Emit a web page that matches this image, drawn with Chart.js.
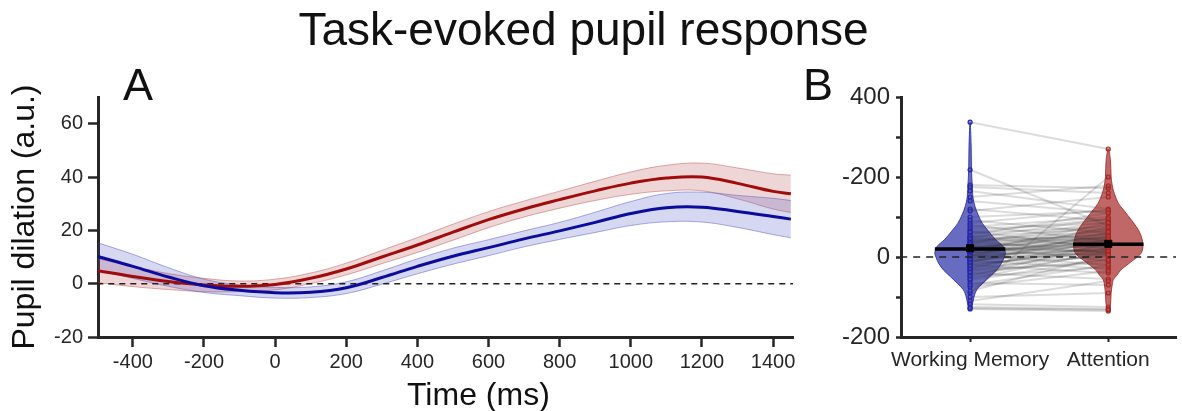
<!DOCTYPE html>
<html>
<head>
<meta charset="utf-8">
<script src="https://cdn.jsdelivr.net/npm/chart.js@4.4.1/dist/chart.umd.min.js"></script>
<style>
  html, body { margin: 0; padding: 0; background: #fff; }
  body { width: 1182px; height: 411px; position: relative; overflow: hidden; font-family: "Liberation Sans", Arial, sans-serif; }
  canvas { position: absolute; top: 0; }
  .txt { position: absolute; color: #111; line-height: 1; white-space: nowrap; z-index: 2; }
  #title { left: 0; width: 1167px; top: 6px; font-size: 46px; text-align: center; }
  .panel { top: 62px; font-size: 45px; }
  #xtitle { left: 407px; top: 378px; font-size: 32px; }
</style>
</head>
<body>
<div class="txt" id="title">Task-evoked pupil response</div>
<div class="txt panel" style="left:123px">A</div>
<div class="txt panel" style="left:803px">B</div>
<div class="txt" id="xtitle">Time (ms)</div>
<canvas id="chartA" width="800" height="411" style="left:0"></canvas>
<canvas id="chartB" width="382" height="411" style="left:800px"></canvas>
<script>
// ---- Panel A: time course (ms) ----
const times = [-500, -400, -300, -200, -100, 0, 100, 200, 300, 400, 500, 600, 700, 800, 900, 1000, 1100, 1200, 1300, 1400, 1450];
const attMean = [4.9, 2.7, 0.8, -0.5, -1.0, -0.3, 2.0, 5.5, 10.0, 14.5, 19.3, 24.0, 28.0, 31.5, 34.8, 37.7, 39.6, 40.0, 37.6, 34.6, 33.7];
const attErr  = [4.5, 3.8, 3.0, 2.5, 2.0, 2.0, 2.0, 2.2, 2.5, 2.8, 3.0, 3.0, 3.0, 3.2, 3.6, 4.2, 4.8, 5.2, 5.8, 6.6, 7.0];
const wmMean  = [10.2, 6.5, 2.5, -0.8, -2.5, -3.4, -3.2, -1.5, 2.3, 6.5, 10.3, 13.5, 16.8, 19.8, 23.0, 26.3, 28.5, 28.7, 27.1, 25.2, 24.2];
const wmErr   = [5.2, 4.5, 3.5, 2.5, 2.0, 2.0, 2.0, 2.2, 2.5, 2.8, 3.0, 3.0, 3.0, 3.2, 3.8, 4.5, 5.3, 5.6, 6.0, 6.8, 7.0];
const aXTicks = [-400, -200, 0, 200, 400, 600, 800, 1000, 1200, 1400];
const aYTicks = [-20, -10, 0, 10, 20, 30, 40, 50, 60, 70];
const aYLabels = ['-20', '', '0', '', '20', '', '40', '', '60', ''];

// ---- Panel B: per-subject values (paired by index) ----
const categories = ['Working Memory', 'Attention'];
const wmValues  = [337, 218, 180, 175, 165, 150, 140, 120, 115, 100, 92, 85, 80, 75, 70, 65, 60, 55, 50, 48, 45, 42, 40, 38, 35, 32, 30, 28, 25, 22, 20, 18, 15, 12, 10, 8, 5, 3, 0, -2, -5, -8, -10, -12, -15, -18, -20, -25, -28, -32, -35, -40, -45, -50, -58, -65, -75, -90, -100, -110, -118, -125, -130, -128,
                   62, 52, 46, 36, 33, 27, 24, 19, 16, 13, 11, 7, 4, 2, -3, -7, -14, -22, -30, -38, -48, -55, -70, -85];
const attValues = [270, 78, 172, 160, 120, 178, 110, 90, 150, 115, 60, 118, 40, 100, 85, 20, 75, 110, 45, 95, 30, 65, 10, 55, 80, 25, 50, -10, 40, 70, 15, 35, 60, 5, 45, 30, -20, 20, 55, 10, 35, -30, 25, 50, 0, 15, -40, 30, 5, -15, 20, -55, 10, -25, -5, -70, -35, 200, -90, -60, -125, -130, -135, -132,
                   95, 70, 40, 88, 58, 12, 48, 66, 28, 85, 38, 52, 18, 75, 42, 8, 62, 22, 45, -8, 35, 15, -20, 5];
const wmViolinLevels  = [-130, -120, -100, -82, -66, -49, -33, -16, 0, 10, 26, 44, 67, 84, 105, 126, 150, 180, 220, 280, 337];
const wmViolinDensity = [0, 0.06, 0.11, 0.19, 0.36, 0.56, 0.75, 0.89, 0.97, 1, 0.94, 0.72, 0.5, 0.35, 0.23, 0.14, 0.08, 0.06, 0.04, 0.03, 0];
const attViolinLevels  = [-135, -120, -91, -70, -57, -45, -32, -20, -7, 5, 17, 34, 50, 67, 85, 101, 118, 134, 159, 180, 201, 243, 270];
const attViolinDensity = [0, 0.06, 0.08, 0.11, 0.14, 0.25, 0.36, 0.53, 0.72, 0.89, 0.97, 0.98, 0.94, 0.86, 0.72, 0.58, 0.43, 0.29, 0.17, 0.11, 0.08, 0.06, 0];
const groupMedian = [20, 32];
const groupMean = [22, 33];
const bYTicks = [-200, -100, 0, 100, 200, 300, 400];
const bYLabels = ['-200', '', '0', '', '-200', '', '400'];

const FONT = 'Liberation Sans';
const AXIS = '#262626';
const BLUE = '#0c0c9c', RED = '#a00c0c';

function xy(xs, ys, off) { return xs.map((x, i) => ({x: x, y: ys[i] + (off ? off[i] : 0)})); }
function neg(a) { return a.map(v => -v); }

function axisStyle(extra) {
  return Object.assign({
    border: {display: true, width: 3, color: AXIS},
    grid: {display: true, drawOnChartArea: false, drawTicks: true, tickLength: 10, tickWidth: 2.5, tickColor: AXIS}
  }, extra);
}

new Chart(document.getElementById('chartA'), {
  type: 'line',
  data: {
    datasets: [
      {data: xy(times, wmMean), borderColor: BLUE, borderWidth: 3, pointRadius: 0, tension: 0.4, fill: false, order: 0},
      {data: xy(times, attMean), borderColor: RED, borderWidth: 3, pointRadius: 0, tension: 0.4, fill: false, order: 1},
      {data: [{x: -500, y: 0}, {x: 1460, y: 0}], borderColor: '#222', borderWidth: 1.5, borderDash: [6, 5], pointRadius: 0, fill: false, order: 2},
      // blue band (upper fills to lower)
      {data: xy(times, wmMean, wmErr), borderColor: 'rgba(70,75,190,0.45)', borderWidth: 1, backgroundColor: 'rgba(70,75,190,0.22)', pointRadius: 0, tension: 0.4, fill: '+1', order: 3},
      {data: xy(times, wmMean, neg(wmErr)), borderColor: 'rgba(70,75,190,0.45)', borderWidth: 1, pointRadius: 0, tension: 0.4, fill: false, order: 4},
      // red band
      {data: xy(times, attMean, attErr), borderColor: 'rgba(175,50,50,0.4)', borderWidth: 1, backgroundColor: 'rgba(175,50,50,0.2)', pointRadius: 0, tension: 0.4, fill: '+1', order: 5},
      {data: xy(times, attMean, neg(attErr)), borderColor: 'rgba(175,50,50,0.4)', borderWidth: 1, pointRadius: 0, tension: 0.4, fill: false, order: 6}
    ]
  },
  options: {
    responsive: false,
    animation: false,
    layout: {padding: {top: 97, right: 7, left: 0, bottom: 0}},
    plugins: {legend: {display: false}, tooltip: {enabled: false}},
    scales: {
      x: axisStyle({
        type: 'linear', min: -498, max: 1456,
        afterBuildTicks: s => { s.ticks = aXTicks.map(v => ({value: v})); },
        afterFit: s => { s.height = 74; },
        ticks: {color: AXIS, font: {family: FONT, size: 20}, padding: 3, maxRotation: 0, callback: v => String(v)}
      }),
      y: axisStyle({
        type: 'linear', min: -20, max: 70,
        afterBuildTicks: s => { s.ticks = aYTicks.map(v => ({value: v})); },
        afterFit: s => { s.width = 98; },
        ticks: {color: AXIS, font: {family: FONT, size: 20}, padding: 5, callback: v => aYLabels[aYTicks.indexOf(v)]},
        title: {display: true, text: 'Pupil dilation (a.u.)', color: '#111', font: {family: FONT, size: 32}, padding: {top: 6, bottom: 0}}
      })
    }
  }
});

// ---- Panel B ----
const VIOLIN_HALF = 0.255;
function violin(levels, dens, center) {
  const right = levels.map((y, i) => ({x: center + dens[i] * VIOLIN_HALF, y: y}));
  const left = levels.map((y, i) => ({x: center - dens[i] * VIOLIN_HALF, y: y})).reverse();
  return right.concat(left.slice(1));
}

const pairLines = wmValues.map((v, i) => ({
  data: [{x: 1, y: v}, {x: 2, y: attValues[i]}],
  borderColor: 'rgba(50,50,50,0.17)', borderWidth: 2, pointRadius: 0, fill: false, order: 4
}));

new Chart(document.getElementById('chartB'), {
  type: 'line',
  data: {
    datasets: [
      {data: [{x: 1, y: groupMean[0]}, {x: 2, y: groupMean[1]}], showLine: false, pointStyle: 'rect', pointRadius: 5, backgroundColor: '#000', borderColor: '#000', order: 0},
      {data: [{x: 1 - VIOLIN_HALF, y: groupMedian[0]}, {x: 1 + VIOLIN_HALF, y: groupMedian[0]}], borderColor: '#000', borderWidth: 3.5, pointRadius: 0, order: 1},
      {data: [{x: 2 - VIOLIN_HALF, y: groupMedian[1]}, {x: 2 + VIOLIN_HALF, y: groupMedian[1]}], borderColor: '#000', borderWidth: 3.5, pointRadius: 0, order: 1},
      {data: [{x: 0.4, y: 0}, {x: 2.6, y: 0}], borderColor: '#222', borderWidth: 1.5, borderDash: [7, 6], pointRadius: 0, order: 2},
      {data: wmValues.map(v => ({x: 1, y: v})), showLine: false, pointRadius: 2, borderWidth: 1.2, borderColor: '#2626a6', backgroundColor: 'rgba(80,85,190,0.6)', order: 3},
      {data: attValues.map(v => ({x: 2, y: v})), showLine: false, pointRadius: 2, borderWidth: 1.2, borderColor: '#a62626', backgroundColor: 'rgba(190,80,80,0.6)', order: 3},
      ...pairLines,
      {data: violin(wmViolinLevels, wmViolinDensity, 1), borderColor: 'rgba(40,45,165,0.85)', borderWidth: 1, backgroundColor: 'rgba(40,45,165,0.7)', pointRadius: 0, tension: 0.35, fill: 'shape', order: 5},
      {data: violin(attViolinLevels, attViolinDensity, 2), borderColor: 'rgba(165,40,40,0.85)', borderWidth: 1, backgroundColor: 'rgba(165,40,40,0.7)', pointRadius: 0, tension: 0.35, fill: 'shape', order: 5}
    ]
  },
  options: {
    responsive: false,
    animation: false,
    layout: {padding: {top: 97, right: 0, left: 0, bottom: 0}},
    plugins: {legend: {display: false}, tooltip: {enabled: false}},
    scales: {
      x: axisStyle({
        type: 'linear', min: 0.5, max: 2.49,
        afterBuildTicks: s => { s.ticks = [1, 2].map(v => ({value: v})); },
        afterFit: s => { s.height = 74; },
        grid: {display: true, drawOnChartArea: false, drawTicks: true, tickLength: 5, tickWidth: 2, tickColor: AXIS},
        ticks: {color: AXIS, font: {family: FONT, size: 21}, padding: 6, maxRotation: 0, callback: v => categories[v - 1]}
      }),
      y: axisStyle({
        type: 'linear', min: -200, max: 400,
        afterBuildTicks: s => { s.ticks = bYTicks.map(v => ({value: v})); },
        afterFit: s => { s.width = 101; },
        grid: {display: true, drawOnChartArea: false, drawTicks: true, tickLength: 5, tickWidth: 2.5, tickColor: AXIS},
        ticks: {color: AXIS, font: {family: FONT, size: 24}, padding: 6, callback: v => bYLabels[bYTicks.indexOf(v)]}
      })
    }
  }
});
</script>
</body>
</html>
